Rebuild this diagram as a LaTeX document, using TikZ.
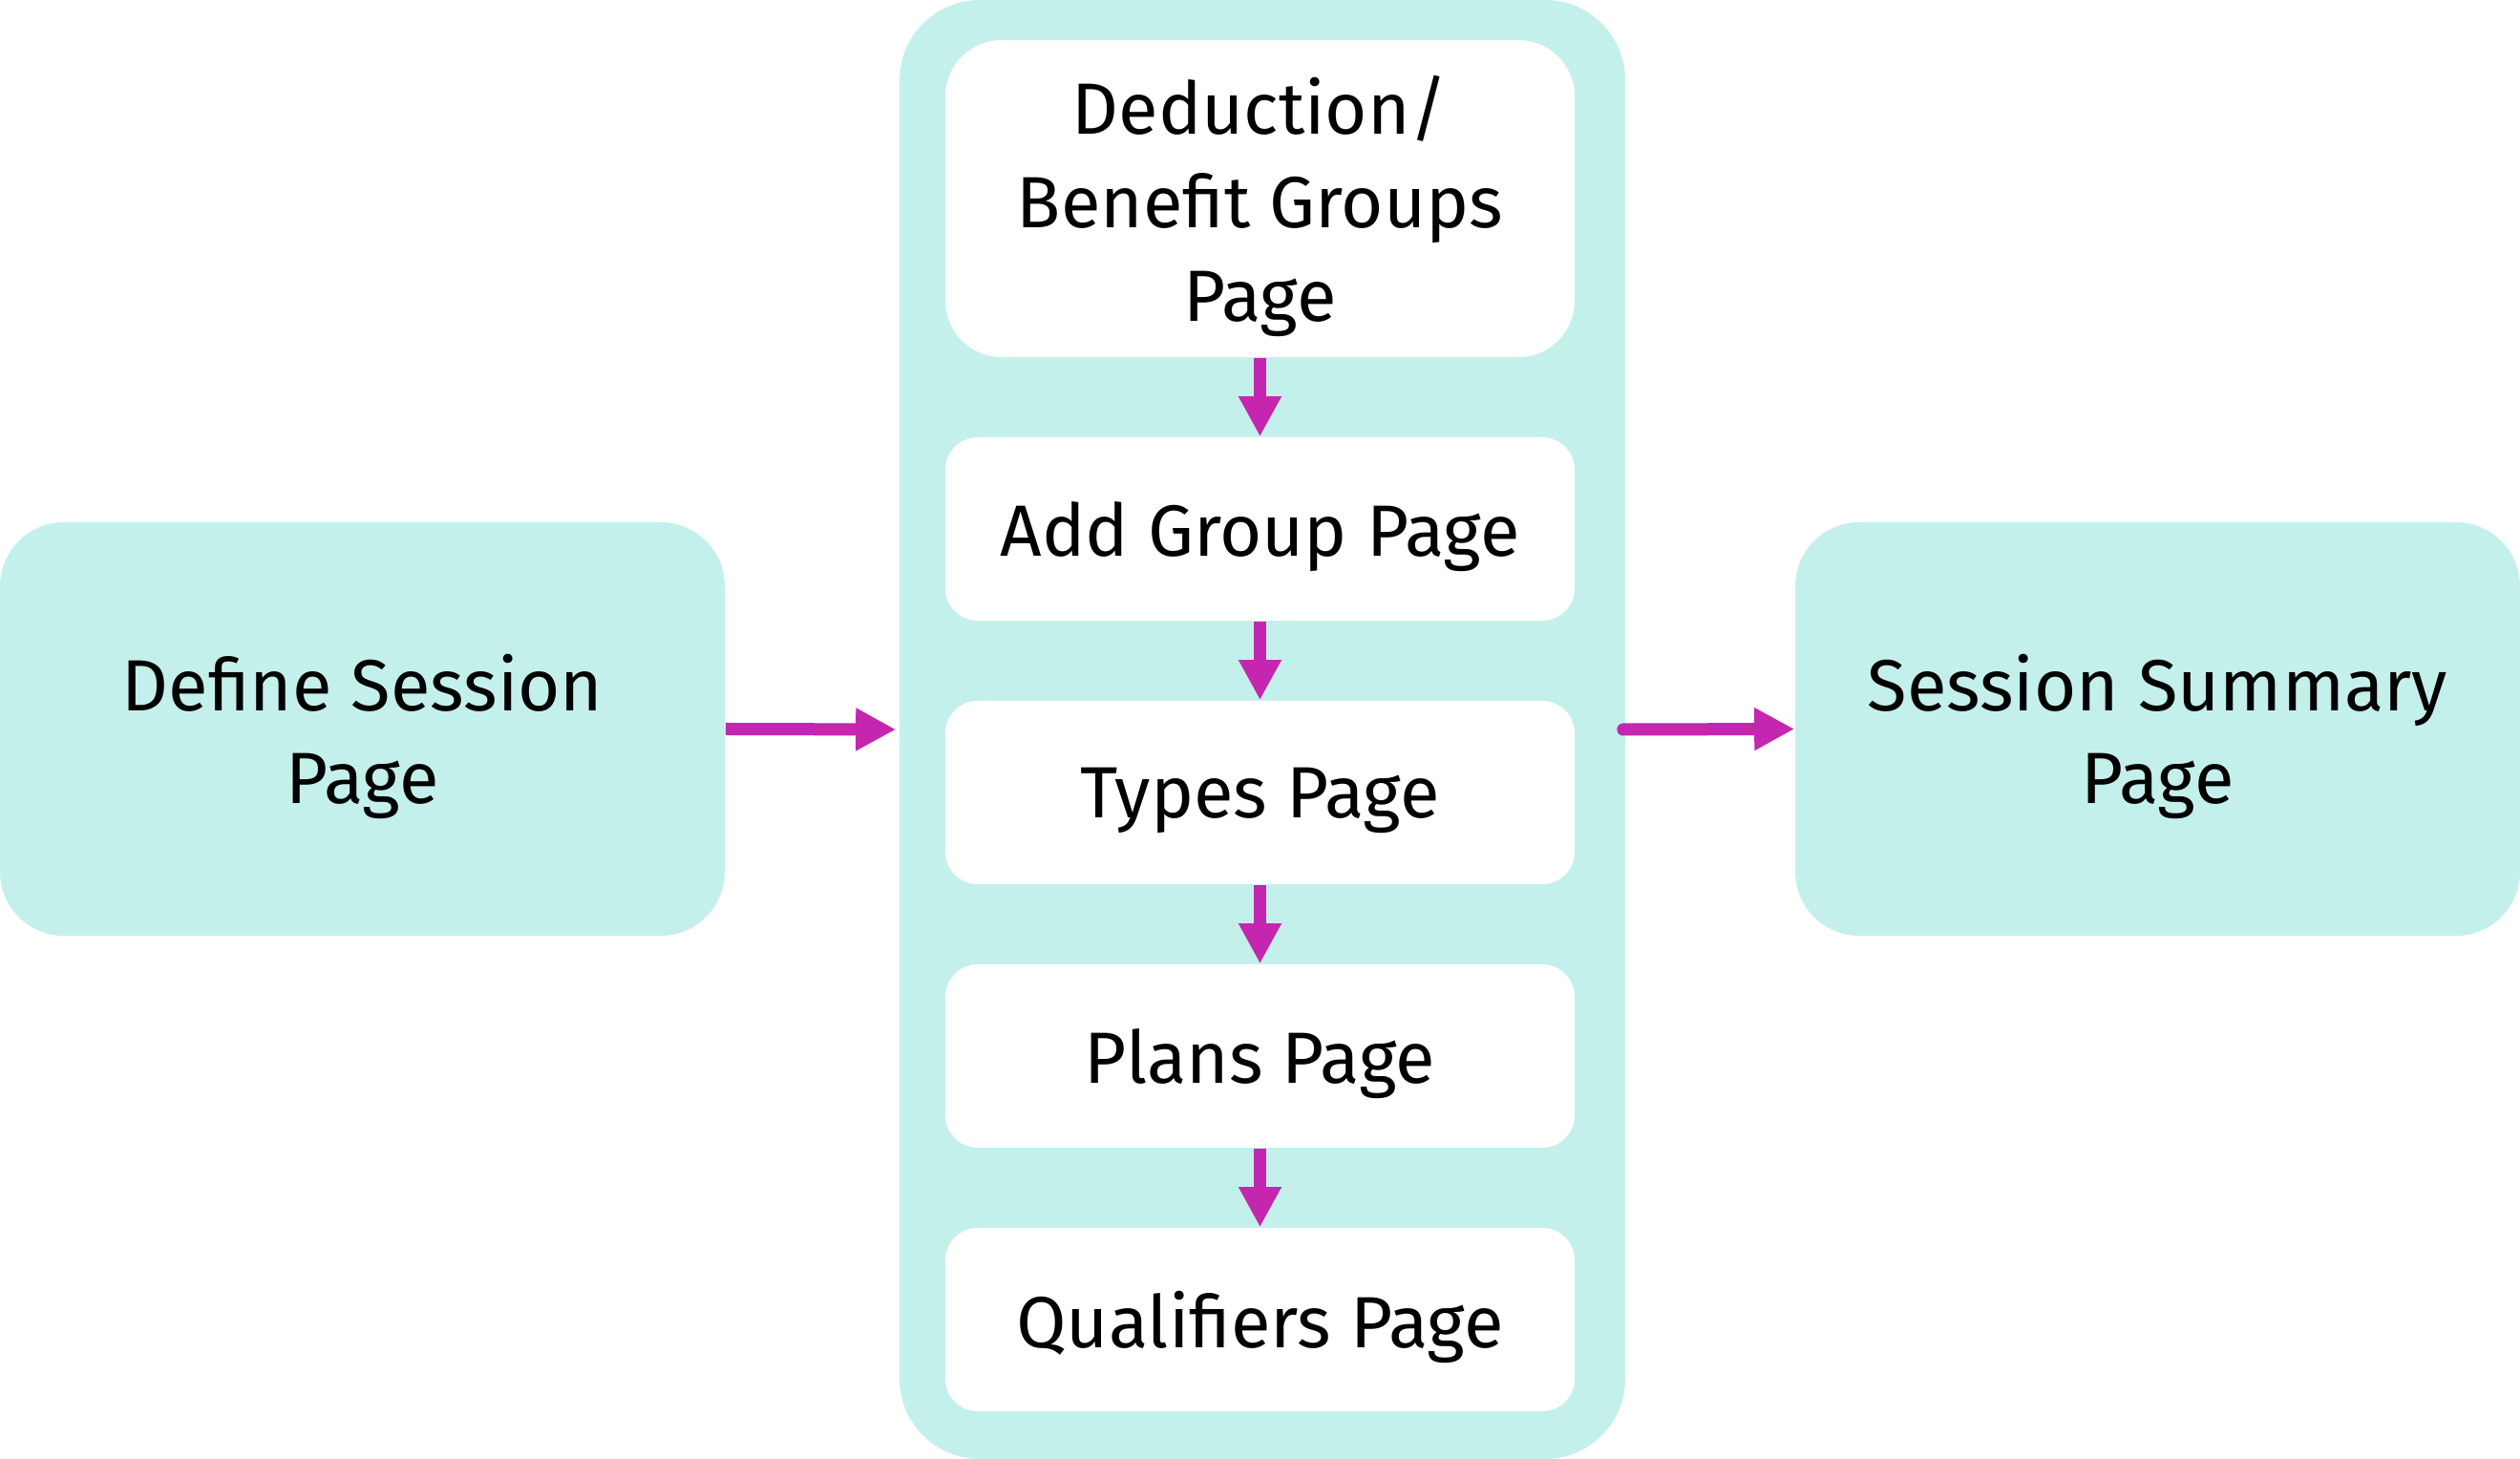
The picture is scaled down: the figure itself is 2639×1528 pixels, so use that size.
\documentclass[tikz,border=0pt]{standalone}
\usepackage{fontspec}
\setmainfont{Fira Sans}
\usetikzlibrary{arrows.meta}
\definecolor{teal1}{RGB}{196,240,235}
\definecolor{mag1}{RGB}{197,38,176}
\begin{document}
\begin{tikzpicture}[x=0.25pt,y=-0.25pt,
  lbl/.style={font=\fontsize{19}{24.4}\selectfont, align=center, text=black, inner sep=0pt, yshift=-2pt},
  sidebox/.style={fill=teal1, rounded corners=16.75pt, minimum width=189.75pt, minimum height=108.25pt, inner sep=0pt},
  contbox/.style={fill=teal1, rounded corners=21pt, minimum width=190pt, minimum height=382pt, inner sep=0pt},
  bigbox/.style={fill=white, rounded corners=14.75pt, minimum width=164.75pt, minimum height=83pt, inner sep=0pt},
  pagebox/.style={fill=white, rounded corners=8.5pt, minimum width=164.75pt, minimum height=48pt, inner sep=0pt},
  flow/.style={draw=mag1, line width=3.25pt, -{Triangle[length=10.5pt,width=10.5pt]}}]
\useasboundingbox (0,0) rectangle (2639,1528);
\node[contbox] (cont) at (1322,764) {};
\node[sidebox] (define) at (379.5,763.5) {};
\node[sidebox] (summary) at (2259.5,763.5) {};
\node[bigbox] (b1) at (1319.5,208) {};
\node[pagebox] (b2) at (1319.5,554) {};
\node[pagebox] (b3) at (1319.5,830) {};
\node[pagebox] (b4) at (1319.5,1106) {};
\node[pagebox] (b5) at (1319.5,1382) {};
\node[lbl] (tdefine) at (define.center) {Define Session\\Page};
\node[lbl] (tsummary) at (summary.center) {Session Summary\\Page};
\node[lbl] (t1) at (b1.center) {Deduction/\\Benefit Groups\\Page};
\node[lbl] (t2) at (b2.center) {Add Group Page};
\node[lbl] (t3) at (b3.center) {Types Page};
\node[lbl] (t4) at (b4.center) {Plans Page};
\node[lbl] (t5) at (b5.center) {Qualifiers Page};
\draw[flow] (b1.south) -- (b2.north);
\draw[flow] (b2.south) -- (b3.north);
\draw[flow] (b3.south) -- (b4.north);
\draw[flow] (b4.south) -- (b5.north);
\draw[flow, shorten >=0.75pt] (define.east) -- (cont.west);
\draw[flow, line cap=round, shorten <=-0.75pt] (cont.east) -- (summary.west);
\end{tikzpicture}
\end{document}
